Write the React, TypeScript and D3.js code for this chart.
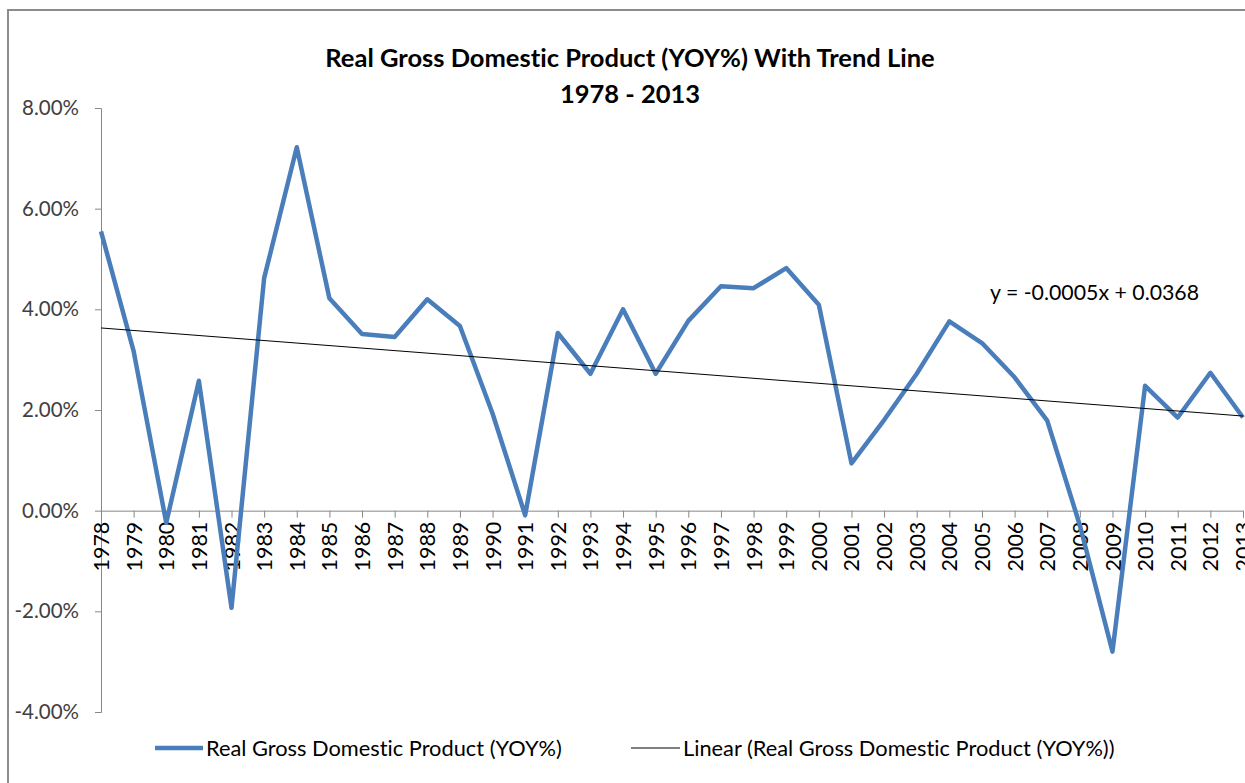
import { useEffect, useRef } from 'react';
import * as d3 from 'd3';

// years on the category axis
const years: number[] = d3.range(1978, 2014);

// Real GDP year-over-year growth, in %
const gdpGrowth: number[] = [
  5.55, 3.17, -0.24, 2.58, -1.93, 4.62, 7.22, 4.22, 3.51, 3.45,
  4.2, 3.67, 1.93, -0.09, 3.53, 2.72, 4.0, 2.72, 3.77, 4.46,
  4.42, 4.82, 4.09, 0.94, 1.8, 2.72, 3.76, 3.33, 2.65, 1.79,
  -0.29, -2.8, 2.48, 1.85, 2.74, 1.85,
];

const yTicks: number[] = [-4, -2, 0, 2, 4, 6, 8];

// Excel linear trend: y = slope * x + intercept, x = 1..n
const trendSlope = -0.0005;
const trendIntercept = 0.0368;
const trendLabel = 'y = -0.0005x + 0.0368';

const titleLines = ['Real Gross Domestic Product (YOY%) With Trend Line', '1978 - 2013'];
const seriesName = 'Real Gross Domestic Product (YOY%)';
const trendName = 'Linear (Real Gross Domestic Product (YOY%))';

const W = 1245;
const H = 783;
const FONT = 'Lato, "Open Sans", sans-serif';
const BLUE = '#4a7ebb';

export default function App() {
  const svgRef = useRef<SVGSVGElement>(null);

  useEffect(() => {
    if (!svgRef.current) return;
    const svg = d3.select(svgRef.current);
    svg.selectAll('*').remove();

    const left = 101;
    const right = 1243;
    const top = 108;
    const bottom = 712;

    const x = d3.scaleLinear().domain([years[0], years[years.length - 1]]).range([left, right]);
    const y = d3.scaleLinear().domain([-4, 8]).range([bottom, top]);

    // outer chart border
    svg.append('rect')
      .attr('x', 8).attr('y', 10)
      .attr('width', W).attr('height', H)
      .attr('fill', '#fff')
      .attr('stroke', '#8c8c8c')
      .attr('stroke-width', 2);

    // title
    svg.append('text')
      .attr('x', 630).attr('y', 0)
      .attr('text-anchor', 'middle')
      .attr('font-family', FONT)
      .attr('font-weight', 'bold')
      .attr('font-size', 25.5)
      .attr('fill', '#000')
      .selectAll('tspan')
      .data(titleLines)
      .enter()
      .append('tspan')
      .attr('x', 630)
      .attr('y', (_, i) => 67 + i * 36)
      .text(d => d);

    // y axis
    const yAxis = svg.append('g')
      .attr('transform', `translate(${left},0)`)
      .call(d3.axisLeft(y).tickValues(yTicks).tickSize(6).tickPadding(16)
        .tickFormat(d => `${(+d).toFixed(2)}%`));
    yAxis.select('.domain').attr('stroke', '#888').attr('stroke-width', 1);
    yAxis.selectAll('.tick line').attr('stroke', '#888');
    yAxis.selectAll('.tick text')
      .attr('font-family', FONT)
      .attr('font-size', 20.5)
      .attr('fill', '#404040');

    // x axis at zero line
    const xAxis = svg.append('g')
      .attr('transform', `translate(0,${y(0)})`)
      .call(d3.axisBottom(x).tickValues(years).tickSize(7).tickFormat(d => String(d)));
    xAxis.select('.domain').attr('stroke', '#888').attr('stroke-width', 1);
    xAxis.selectAll('.tick line').attr('stroke', '#888');
    xAxis.selectAll('.tick text')
      .attr('font-family', FONT)
      .attr('font-size', 21.5)
      .attr('fill', '#000')
      .attr('text-anchor', 'end')
      .attr('transform', 'rotate(-90)')
      .attr('x', -11)
      .attr('y', 0)
      .attr('dy', '0.35em');

    // data line
    const line = d3.line<number>()
      .x((_, i) => x(years[i]))
      .y(d => y(d));

    svg.append('path')
      .datum(gdpGrowth)
      .attr('d', line)
      .attr('fill', 'none')
      .attr('stroke', BLUE)
      .attr('stroke-width', 4.5)
      .attr('stroke-linejoin', 'round');

    // trend line
    const n = years.length;
    const trend = [1, n].map(k => ({ yr: years[k - 1], v: (trendSlope * k + trendIntercept) * 100 }));
    svg.append('line')
      .attr('x1', x(trend[0].yr)).attr('y1', y(trend[0].v))
      .attr('x2', x(trend[1].yr)).attr('y2', y(trend[1].v))
      .attr('stroke', '#000')
      .attr('stroke-width', 1);

    svg.append('text')
      .attr('x', 990).attr('y', 300)
      .attr('font-family', FONT)
      .attr('font-size', 21.3)
      .attr('fill', '#000')
      .text(trendLabel);

    // legend
    const legendY = 748;
    const lg = svg.append('g').attr('font-family', FONT).attr('font-size', 21.8).attr('fill', '#000');
    lg.append('line')
      .attr('x1', 155).attr('x2', 203).attr('y1', legendY).attr('y2', legendY)
      .attr('stroke', BLUE).attr('stroke-width', 4.5);
    lg.append('text').attr('x', 206).attr('y', legendY).attr('dy', '0.35em').text(seriesName);
    lg.append('line')
      .attr('x1', 631).attr('x2', 680).attr('y1', legendY).attr('y2', legendY)
      .attr('stroke', '#000').attr('stroke-width', 1);
    lg.append('text').attr('x', 683).attr('y', legendY).attr('dy', '0.35em').text(trendName);

    // no "sti" ligatures, like the original
    svg.selectAll('text').style('font-variant-ligatures', 'none');
  }, []);

  return (
    <svg
      ref={svgRef}
      width={W}
      height={H}
      style={{ position: 'absolute', left: 0, top: 0, background: '#fff' }}
    />
  );
}
